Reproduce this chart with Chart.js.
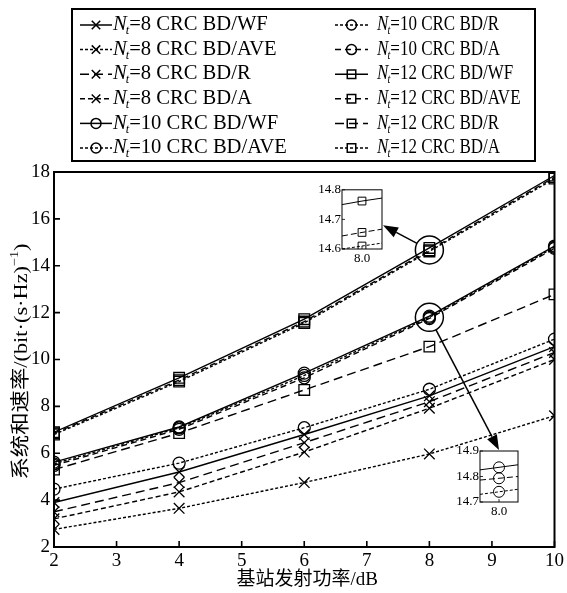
<!DOCTYPE html>
<html>
<head>
<meta charset="utf-8">
<script src="https://cdn.jsdelivr.net/npm/chart.js@4/dist/chart.umd.min.js"></script>
<style>
  html, body { margin: 0; padding: 0; background: #fff; }
  #wrap { position: relative; width: 567px; height: 593px; }
  #main { position: absolute; left: 0; top: 0; }
  #inset12 { position: absolute; left: 310px; top: 181px; }
  #inset10 { position: absolute; left: 448px; top: 442px; }
</style>
</head>
<body>
<div id="wrap">
  <canvas id="main" width="567" height="593"></canvas>
  <canvas id="inset12" width="74" height="88"></canvas>
  <canvas id="inset10" width="72" height="80"></canvas>
</div>
<script>
// x axis: transmit power of the base station (dB)
var powers = [2, 4, 6, 8, 10];

// sum rate, bit/(s*Hz)
var nt8WF   = [3.9, 5.2, 6.8, 8.45, 10.55];
var nt8AVE  = [2.75, 3.65, 4.75, 5.97, 7.6];
var nt8R    = [3.5, 4.75, 6.45, 8.2, 10.3];
var nt8A    = [3.2, 4.35, 6.05, 7.92, 10.0];
var nt10WF  = [5.62, 7.12, 9.42, 11.85, 14.84];
var nt10AVE = [5.55, 7.08, 9.32, 11.8, 14.79];
var nt10R   = [4.47, 5.58, 7.09, 8.73, 10.87];
var nt10A   = [5.48, 7.02, 9.22, 11.75, 14.74];
var nt12WF  = [6.9, 9.22, 11.72, 14.76, 17.85];
var nt12AVE = [6.85, 9.12, 11.62, 14.66, 17.78];
var nt12R   = [5.3, 6.86, 8.7, 10.55, 12.78];
var nt12A   = [6.8, 9.06, 11.56, 14.61, 17.72];

var xTicks = [2, 3, 4, 5, 6, 7, 8, 9, 10];
var yTicks = [2, 4, 6, 8, 10, 12, 14, 16, 18];

// zoomed insets around x = 8 (values as printed in the insets)
var insetX       = [7.99, 8.0, 8.01];
var inset12WF    = [14.75, 14.762, 14.772];
var inset12AVE   = [14.644, 14.656, 14.667];
var inset12A     = [14.6, 14.61, 14.62];
var inset12Ticks = [14.6, 14.7, 14.8];
var inset10WF    = [14.826, 14.836, 14.846];
var inset10AVE   = [14.786, 14.793, 14.8];
var inset10A     = [14.73, 14.74, 14.75];
var inset10Ticks = [14.7, 14.8, 14.9];

var SERIF = "'Liberation Serif', 'Times New Roman', serif";
var CJK = "'Liberation Serif', 'Noto Sans CJK SC', serif";

function pts(xs, ys) {
  return xs.map(function (x, i) { return { x: x, y: ys[i] }; });
}

var series = [
  { nt: 8,  m: "WF",  v: nt8WF,   s: "crossRot", d: [] },
  { nt: 8,  m: "AVE", v: nt8AVE,  s: "crossRot", d: [3, 2] },
  { nt: 8,  m: "R",   v: nt8R,    s: "crossRot", d: [9, 5] },
  { nt: 8,  m: "A",   v: nt8A,    s: "crossRot", d: [5, 3] },
  { nt: 10, m: "WF",  v: nt10WF,  s: "circle",   d: [] },
  { nt: 10, m: "AVE", v: nt10AVE, s: "circle",   d: [3, 2] },
  { nt: 10, m: "R",   v: nt10R,   s: "circle",   d: [3, 2] },
  { nt: 10, m: "A",   v: nt10A,   s: "circle",   d: [6, 4] },
  { nt: 12, m: "WF",  v: nt12WF,  s: "rect",     d: [] },
  { nt: 12, m: "AVE", v: nt12AVE, s: "rect",     d: [6, 4] },
  { nt: 12, m: "R",   v: nt12R,   s: "rect",     d: [9, 5] },
  { nt: 12, m: "A",   v: nt12A,   s: "rect",     d: [3, 2] }
];

function radiusFor(style) {
  if (style === "rect") return 7.5;
  if (style === "crossRot") return 7.5;
  return 6;
}

var datasets = series.map(function (s) {
  return {
    label: "Nt=" + s.nt + " CRC BD/" + s.m,
    nt: s.nt,
    method: s.m,
    data: pts(powers, s.v),
    borderColor: "#000",
    backgroundColor: "rgba(0,0,0,0)",
    borderWidth: 1.4,
    borderDash: s.d,
    pointStyle: s.s,
    pointRadius: radiusFor(s.s),
    pointBorderColor: "#000",
    pointBorderWidth: 1.3,
    pointBackgroundColor: "rgba(0,0,0,0)",
    tension: 0
  };
});

// frame around the plot + inward tick marks
function framePlugin(lw, tick) {
  return {
    id: "frame",
    afterDraw: function (chart) {
      var ctx = chart.ctx, a = chart.chartArea;
      ctx.save();
      ctx.strokeStyle = "#000";
      ctx.setLineDash([]);
      ctx.lineWidth = lw;
      ctx.strokeRect(a.left, a.top, a.right - a.left, a.bottom - a.top);
      ctx.lineWidth = lw * 0.8;
      ctx.beginPath();
      chart.scales.x.ticks.forEach(function (t) {
        var px = chart.scales.x.getPixelForValue(t.value);
        ctx.moveTo(px, a.bottom);
        ctx.lineTo(px, a.bottom - tick);
      });
      chart.scales.y.ticks.forEach(function (t) {
        var py = chart.scales.y.getPixelForValue(t.value);
        ctx.moveTo(a.left, py);
        ctx.lineTo(a.left + tick, py);
      });
      ctx.stroke();
      ctx.restore();
    }
  };
}

function drawMarker(ctx, style, r, x, y) {
  ctx.fillStyle = "rgba(0,0,0,0)";
  if (Chart.helpers && Chart.helpers.drawPoint) {
    Chart.helpers.drawPoint(ctx, { pointStyle: style, radius: r, borderWidth: 1.3 }, x, y);
  } else {
    ctx.beginPath();
    ctx.arc(x, y, r, 0, Math.PI * 2);
    ctx.stroke();
  }
  ctx.fillStyle = "#000";
}

function makeInset(id, ws, ys, yTickVals, padTop) {
  var sets = [
    { v: ws[0], d: [] },
    { v: ws[1], d: [6, 3] },
    { v: ws[2], d: [3, 2] }
  ];
  return new Chart(document.getElementById(id), {
    type: "line",
    data: {
      datasets: sets.map(function (s) {
        return {
          data: pts(insetX, s.v),
          borderColor: "#000",
          borderWidth: 1,
          borderDash: s.d,
          pointStyle: ys,
          pointRadius: [0, 5.5, 0],
          pointBorderColor: "#000",
          pointBorderWidth: 1,
          pointBackgroundColor: "rgba(0,0,0,0)",
          backgroundColor: "rgba(0,0,0,0)"
        };
      })
    },
    options: {
      responsive: false,
      animation: false,
      layout: { padding: { top: padTop, right: 2 } },
      plugins: { legend: { display: false }, tooltip: { enabled: false } },
      scales: {
        x: {
          type: "linear", min: insetX[0], max: insetX[insetX.length - 1],
          afterBuildTicks: function (sc) { sc.ticks = [{ value: 8 }]; },
          afterFit: function (sc) { sc.height = 20; },
          grid: { display: false, drawTicks: false }, border: { display: false },
          ticks: { color: "#000", padding: 2, font: { family: SERIF, size: 13 },
                   callback: function (v) { return Number(v).toFixed(1); } }
        },
        y: {
          min: yTickVals[0], max: yTickVals[yTickVals.length - 1],
          afterBuildTicks: function (sc) { sc.ticks = yTickVals.map(function (v) { return { value: v }; }); },
          afterFit: function (sc) { sc.width = 32; },
          grid: { display: false, drawTicks: false }, border: { display: false },
          ticks: { color: "#000", padding: 1, font: { family: SERIF, size: 13 },
                   callback: function (v) { return Number(v).toFixed(1); } }
        }
      }
    },
    plugins: [framePlugin(1, 3)]
  });
}

var inset12Chart = makeInset("inset12", [inset12WF, inset12AVE, inset12A], "rect", inset12Ticks, 8);
var inset10Chart = makeInset("inset10", [inset10WF, inset10AVE, inset10A], "circle", inset10Ticks, 9);

function insetBox(chart, id) {
  var el = document.getElementById(id);
  var a = chart.chartArea;
  return { left: el.offsetLeft + a.left, right: el.offsetLeft + a.right,
           top: el.offsetTop + a.top, bottom: el.offsetTop + a.bottom };
}

function arrow(ctx, x0, y0, x1, y1) {
  var ang = Math.atan2(y1 - y0, x1 - x0), L = 15, W = 5.5;
  var bx = x1 - L * Math.cos(ang), by = y1 - L * Math.sin(ang);
  ctx.beginPath();
  ctx.moveTo(x0, y0);
  ctx.lineTo(bx, by);
  ctx.stroke();
  ctx.beginPath();
  ctx.moveTo(x1, y1);
  ctx.lineTo(bx + W * Math.sin(ang), by - W * Math.cos(ang));
  ctx.lineTo(bx - W * Math.sin(ang), by + W * Math.cos(ang));
  ctx.closePath();
  ctx.fill();
}

var calloutPlugin = {
  id: "callout",
  afterDatasetsDraw: function (chart) {
    var ctx = chart.ctx, xs = chart.scales.x, ys = chart.scales.y;
    var i8 = powers.indexOf(8);
    var groups = [
      { vals: [nt12WF[i8], nt12AVE[i8], nt12A[i8]], box: insetBox(inset12Chart, "inset12"), side: "right" },
      { vals: [nt10WF[i8], nt10AVE[i8], nt10A[i8]], box: insetBox(inset10Chart, "inset10"), side: "top" }
    ];
    ctx.save();
    ctx.strokeStyle = "#000";
    ctx.fillStyle = "#000";
    ctx.lineWidth = 1.5;
    ctx.setLineDash([]);
    groups.forEach(function (g) {
      var mean = (g.vals[0] + g.vals[1] + g.vals[2]) / 3;
      var cx = xs.getPixelForValue(8), cy = ys.getPixelForValue(mean), r = 14;
      ctx.beginPath();
      ctx.arc(cx, cy, r, 0, Math.PI * 2);
      ctx.stroke();
      var tx, ty;
      if (g.side === "right") {
        tx = g.box.right + 1;
        ty = g.box.top + (g.box.bottom - g.box.top) * 0.6;
      } else {
        tx = (g.box.left + g.box.right) / 2;
        ty = g.box.top - 1;
      }
      var ang = Math.atan2(ty - cy, tx - cx);
      arrow(ctx, cx + r * Math.cos(ang), cy + r * Math.sin(ang), tx, ty);
    });
    ctx.restore();
  }
};

var legendPlugin = {
  id: "customLegend",
  afterDraw: function (chart) {
    var ctx = chart.ctx;
    ctx.save();
    ctx.strokeStyle = "#000";
    ctx.fillStyle = "#000";
    ctx.lineWidth = 2;
    ctx.setLineDash([]);
    ctx.strokeRect(72, 9, 463, 152);
    chart.data.datasets.forEach(function (ds, i) {
      var col = Math.floor(i / 6), row = i % 6;
      var y = 25 + row * 24.6;
      var x0 = col === 0 ? 80 : 335, x1 = col === 0 ? 112 : 368;
      var tx = col === 0 ? 113 : 377;
      var sx = col === 0 ? 1.03 : 0.85;
      ctx.lineWidth = 1.5;
      ctx.setLineDash(ds.borderDash);
      ctx.beginPath();
      ctx.moveTo(x0, y);
      ctx.lineTo(x1, y);
      ctx.stroke();
      ctx.setLineDash([]);
      drawMarker(ctx, ds.pointStyle, ds.pointStyle === "circle" ? 5 : 6, (x0 + x1) / 2, y);
      ctx.save();
      ctx.translate(tx, y);
      ctx.scale(sx, 1);
      ctx.textBaseline = "middle";
      ctx.textAlign = "left";
      ctx.font = "italic 20px " + SERIF;
      ctx.fillText("N", 0, 0);
      var w = ctx.measureText("N").width;
      ctx.font = "italic 12px " + SERIF;
      ctx.fillText("t", w - 1, 6);
      var w2 = ctx.measureText("t").width;
      ctx.font = "20px " + SERIF;
      ctx.fillText("=" + ds.nt + " CRC BD/" + ds.method, w + w2 - 1, 0);
      ctx.restore();
    });
    ctx.restore();
  }
};

var titlePlugin = {
  id: "axisTitles",
  afterDraw: function (chart) {
    var ctx = chart.ctx, a = chart.chartArea;
    ctx.save();
    ctx.fillStyle = "#000";
    ctx.textBaseline = "middle";
    ctx.textAlign = "center";
    ctx.font = "19px " + CJK;
    ctx.fillText("基站发射功率/dB", (a.left + a.right) / 2 + 3, 580);
    ctx.translate(22, (a.top + a.bottom) / 2 + 2);
    ctx.rotate(-Math.PI / 2);
    var p1 = "系统和速率/(bit·(s·Hz)", p2 = "−1", p3 = ")";
    ctx.font = "19px " + CJK;
    var w1 = ctx.measureText(p1).width, w3 = ctx.measureText(p3).width;
    ctx.font = "12px " + SERIF;
    var w2 = ctx.measureText(p2).width;
    var total = w1 + w2 + w3;
    ctx.scale(236 / total, 1);
    var start = -total / 2;
    ctx.textAlign = "left";
    ctx.font = "19px " + CJK;
    ctx.fillText(p1, start, 0);
    ctx.font = "12px " + SERIF;
    ctx.fillText(p2, start + w1, -7);
    ctx.font = "19px " + CJK;
    ctx.fillText(p3, start + w1 + w2, 0);
    ctx.restore();
  }
};

new Chart(document.getElementById("main"), {
  type: "line",
  data: { datasets: datasets },
  options: {
    responsive: false,
    animation: false,
    layout: { padding: { top: 172, right: 12, left: 0, bottom: 0 } },
    plugins: { legend: { display: false }, tooltip: { enabled: false } },
    scales: {
      x: {
        type: "linear", min: 2, max: 10,
        afterBuildTicks: function (sc) { sc.ticks = xTicks.map(function (v) { return { value: v }; }); },
        afterFit: function (sc) { sc.height = 46; },
        grid: { display: false, drawTicks: false }, border: { display: false },
        ticks: { color: "#000", padding: 3, maxRotation: 0, font: { family: SERIF, size: 19 } }
      },
      y: {
        min: 2, max: 18,
        afterBuildTicks: function (sc) { sc.ticks = yTicks.map(function (v) { return { value: v }; }); },
        afterFit: function (sc) { sc.width = 54; },
        grid: { display: false, drawTicks: false }, border: { display: false },
        ticks: { color: "#000", padding: 4, font: { family: SERIF, size: 19 } }
      }
    }
  },
  plugins: [framePlugin(2, 6), calloutPlugin, legendPlugin, titlePlugin]
});
</script>
</body>
</html>
